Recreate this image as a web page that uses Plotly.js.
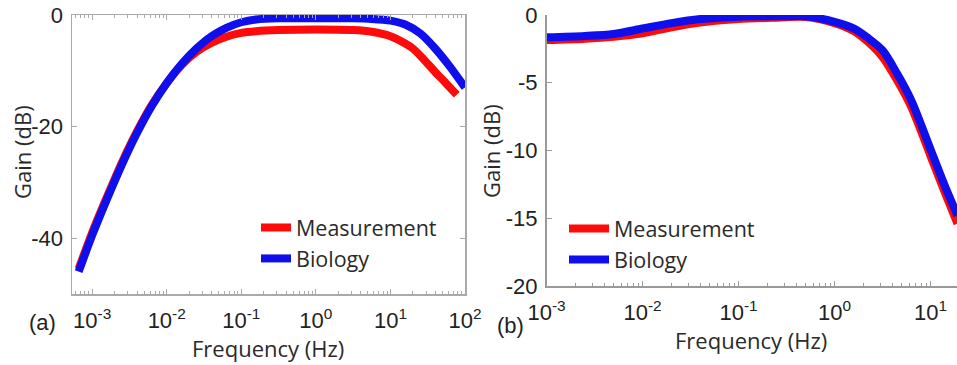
<!DOCTYPE html>
<html>
<head>
<meta charset="utf-8">
<script src="https://cdn.plot.ly/plotly-3.0.1.min.js"></script>
<style>
html,body{margin:0;padding:0;background:#fff;}
#chart{width:957px;height:365px;}
</style>
</head>
<body>
<div id="chart"></div>
<script>
// ---- Panel (a) data ----
const freqA_bio  = [0.00066, 0.001, 0.00158, 0.00251, 0.00398, 0.00631, 0.01, 0.0158, 0.0251, 0.0398, 0.0631, 0.1, 0.158, 0.316, 1, 3.16, 5.62, 10, 15.8, 25.1, 39.8, 63.1, 100];
const gainA_bio  = [-46.0, -39.5, -33.0, -26.8, -21.2, -16.3, -12.2, -8.8, -6.0, -3.8, -2.3, -1.3, -0.8, -0.6, -0.6, -0.6, -0.7, -1.0, -1.7, -3.3, -6.0, -9.3, -13.0];
const freqA_meas = [0.00066, 0.001, 0.00158, 0.00251, 0.00398, 0.00631, 0.01, 0.0158, 0.0251, 0.0398, 0.0631, 0.1, 0.158, 0.316, 1, 3.16, 5.62, 10, 15.8, 20, 28.2, 39.8, 56.2, 77.6];
const gainA_meas = [-45.5, -39.0, -32.6, -26.4, -20.9, -16.1, -12.2, -9.0, -6.6, -5.0, -3.9, -3.2, -2.9, -2.7, -2.6, -2.7, -3.0, -3.8, -5.1, -6.0, -8.0, -10.2, -12.3, -14.3];

// ---- Panel (b) data ----
const freqB      = [0.001, 0.0025, 0.005, 0.01, 0.02, 0.04, 0.1, 0.25, 0.5, 1, 1.6, 2.24, 3.16, 4.47, 6.31, 10, 14.1, 19.1];
const gainB_bio  = [-1.65, -1.55, -1.4, -1.0, -0.6, -0.3, -0.12, -0.1, -0.1, -0.5, -1.0, -1.7, -2.6, -4.3, -6.3, -9.9, -12.6, -14.8];
const gainB_meas = [-1.85, -1.75, -1.6, -1.35, -0.9, -0.55, -0.3, -0.2, -0.15, -0.6, -1.2, -2.0, -3.1, -4.8, -6.8, -10.4, -13.1, -15.4];

// ---- Labels / ticks ----
const seriesNames = ['Measurement', 'Biology'];
const seriesColors = ['rgb(255,10,10)', 'rgb(15,15,235)'];
const xTickValsA = [0.001, 0.01, 0.1, 1, 10, 100];
const xTickTextA = ['10<sup>-3</sup>', '10<sup>-2</sup>', '10<sup>-1</sup>', '10<sup>0</sup>', '10<sup>1</sup>', '10<sup>2</sup>'];
const xTickValsB = [0.001, 0.01, 0.1, 1, 10];
const xTickTextB = ['10<sup>-3</sup>', '10<sup>-2</sup>', '10<sup>-1</sup>', '10<sup>0</sup>', '10<sup>1</sup>'];
const yTickValsA = [-40, -20, 0];
const yTickTextA = ['-40', '-20', '0'];
const yTickValsB = [-20, -15, -10, -5, 0];
const yTickTextB = ['-20', '-15', '-10', '-5', '0'];
const xTitle = 'Frequency (Hz)';
const yTitle = 'Gain (dB)';
const panelLabels = ['(a)', '(b)'];

// minor log ticks (2..9 per decade)
const minorVals = [];
for (let e = -4; e <= 2; e++) for (let k = 2; k <= 9; k++) minorVals.push(k * Math.pow(10, e));

const lw = 8;
const traces = [
  {x: freqA_meas, y: gainA_meas, name: seriesNames[0], mode: 'lines', line: {color: seriesColors[0], width: lw, shape: 'spline', smoothing: 0.8}, xaxis: 'x', yaxis: 'y', legend: 'legend'},
  {x: freqA_bio,  y: gainA_bio,  name: seriesNames[1], mode: 'lines', line: {color: seriesColors[1], width: lw, shape: 'spline', smoothing: 0.8}, xaxis: 'x', yaxis: 'y', legend: 'legend'},
  {x: freqB, y: gainB_meas, name: seriesNames[0], mode: 'lines', line: {color: seriesColors[0], width: lw, shape: 'spline', smoothing: 0.8}, xaxis: 'x2', yaxis: 'y2', legend: 'legend2'},
  {x: freqB, y: gainB_bio,  name: seriesNames[1], mode: 'lines', line: {color: seriesColors[1], width: lw, shape: 'spline', smoothing: 0.8}, xaxis: 'x2', yaxis: 'y2', legend: 'legend2'}
];

const tickFont = {family: 'Liberation Sans, Arial, sans-serif', size: 22, color: '#222'};
const titleFont = {family: 'Open Sans, sans-serif', size: 22, color: '#2a2a2a'};
const legFont = {family: 'Open Sans, sans-serif', size: 21.5, color: '#2a2a2a'};

function xAxis(domain, range, vals, text, mirror, lineColor) {
  return {
    type: 'log', domain: domain, range: range, autorange: false,
    tickmode: 'array', tickvals: vals, ticktext: text,
    ticks: 'inside', ticklen: 5, tickcolor: lineColor, tickwidth: 1,
    ticklabelstandoff: 6,
    minor: {tickmode: 'array', tickvals: minorVals, ticks: 'inside', ticklen: 3, tickcolor: lineColor},
    showline: true, linecolor: lineColor, linewidth: 1.5, mirror: mirror,
    showgrid: false, zeroline: false, tickfont: tickFont
  };
}
function yAxis(domain, range, vals, text, mirror, lineColor) {
  return {
    domain: domain, range: range, autorange: false,
    tickmode: 'array', tickvals: vals, ticktext: text,
    ticks: 'inside', ticklen: 5, tickcolor: lineColor, tickwidth: 1,
    ticklabelstandoff: 3,
    showline: true, linecolor: lineColor, linewidth: 1.5, mirror: mirror,
    showgrid: false, zeroline: false, tickfont: tickFont
  };
}

const H = 365, W = 957;
function ann(text, px, py, font, angle) {
  return {text: text, xref: 'paper', yref: 'paper', x: px / W, y: 1 - py / H, xanchor: 'center', yanchor: 'middle', showarrow: false, font: font, textangle: angle || 0};
}
const lblFont = {family: 'Liberation Sans, Arial, sans-serif', size: 22, color: '#222'};

const layout = {
  width: W, height: H,
  margin: {l: 0, r: 0, t: 0, b: 0},
  paper_bgcolor: '#fff', plot_bgcolor: '#fff',
  showlegend: true,
  xaxis: Object.assign(xAxis([72 / W, 465 / W], [-3.27, 2], xTickValsA, xTickTextA, 'ticks', '#aaa'), {anchor: 'y'}),
  yaxis: Object.assign(yAxis([1 - 294 / H, 1 - 15 / H], [-50, 0], yTickValsA, yTickTextA, 'ticks', '#aaa'), {anchor: 'x'}),
  xaxis2: Object.assign(xAxis([546.5 / W, 1], [-3, 1.276], xTickValsB, xTickTextB, false, '#999'), {anchor: 'y2'}),
  yaxis2: Object.assign(yAxis([1 - 286 / H, 1 - 15 / H], [-20, 0], yTickValsB, yTickTextB, false, '#999'), {anchor: 'x2'}),
  legend: {x: 256 / W, y: 1 - 207 / H, xanchor: 'left', yanchor: 'top', bgcolor: 'rgba(0,0,0,0)', font: legFont, itemwidth: 30, tracegroupgap: 0},
  legend2: {x: 564 / W, y: 1 - 208 / H, xanchor: 'left', yanchor: 'top', bgcolor: 'rgba(0,0,0,0)', font: legFont, itemwidth: 40, tracegroupgap: 0},
  annotations: [
    ann(panelLabels[0], 42, 322, lblFont),
    ann(panelLabels[1], 510, 325, lblFont),
    ann(xTitle, 268, 348, titleFont),
    ann(xTitle, 751, 340, titleFont),
    ann(yTitle, 22, 152, titleFont, -90),
    ann(yTitle, 491, 151, titleFont, -90)
  ]
};

Plotly.newPlot('chart', traces, layout, {staticPlot: true, displayModeBar: false});
</script>
</body>
</html>
